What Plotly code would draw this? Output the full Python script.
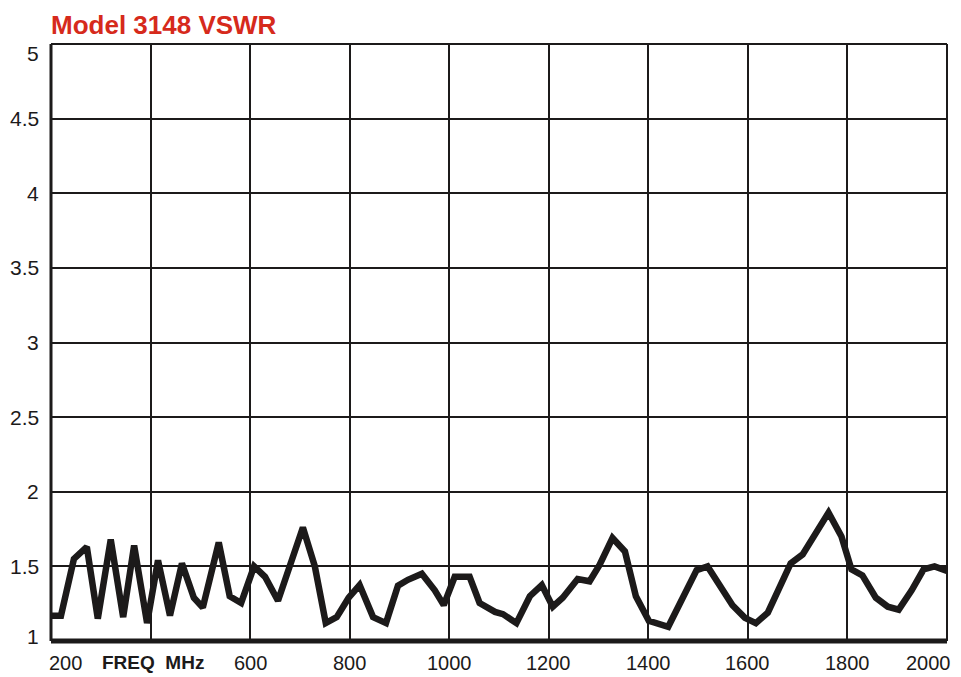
import plotly.graph_objects as go

# ---- data ----
freq_mhz = [200, 220, 246, 272, 294, 320, 345, 367, 393, 415, 439, 463, 487, 505,
            537, 559, 582, 608, 630, 656, 706, 730, 752, 774, 798, 820, 847, 873,
            897, 917, 945, 971, 989, 1011, 1041, 1061, 1092, 1108, 1135, 1162, 1186,
            1208, 1228, 1258, 1282, 1302, 1328, 1353, 1375, 1401, 1440, 1469, 1497,
            1519, 1543, 1569, 1594, 1616, 1640, 1664, 1686, 1710, 1730, 1762, 1788,
            1808, 1830, 1857, 1881, 1903, 1929, 1953, 1975, 2000]
vswr = [1.17, 1.17, 1.55, 1.63, 1.15, 1.68, 1.16, 1.64, 1.12, 1.54, 1.17, 1.52, 1.29, 1.225,
        1.66, 1.30, 1.255, 1.50, 1.43, 1.27, 1.76, 1.50, 1.12, 1.16, 1.29, 1.375, 1.16, 1.12,
        1.37, 1.41, 1.45, 1.34, 1.24, 1.43, 1.43, 1.255, 1.195, 1.18, 1.12, 1.30, 1.375,
        1.23, 1.29, 1.415, 1.40, 1.51, 1.69, 1.60, 1.30, 1.135, 1.095, 1.295, 1.475,
        1.50, 1.38, 1.24, 1.155, 1.12, 1.19, 1.355, 1.52, 1.58, 1.69, 1.86, 1.70,
        1.48, 1.44, 1.29, 1.23, 1.21, 1.34, 1.48, 1.50, 1.47]

x_tick_vals = [200, 400, 600, 800, 1000, 1200, 1400, 1600, 1800, 2000]
x_tick_text = ["200", "FREQ MHz", "600", "800", "1000", "1200", "1400", "1600", "1800", "2000"]
y_tick_vals = [1, 1.5, 2, 2.5, 3, 3.5, 4, 4.5, 5]
y_tick_text = ["1", "1.5", "2", "2.5", "3", "3.5", "4", "4.5", "5"]
title_text = "Model 3148 VSWR"

INK = "#1c1a1a"
RED = "#d62a1c"
FONT = "Liberation Sans, Arial, sans-serif"

fig = go.Figure()
fig.add_trace(go.Scatter(x=freq_mhz, y=vswr, mode="lines",
                         line=dict(color=INK, width=6.5),
                         hoverinfo="skip", showlegend=False))

annotations = []
for v, t in zip(x_tick_vals, x_tick_text):
    a = dict(x=v, xref="x", y=0, yref="paper", text=t, showarrow=False,
             yanchor="top", yshift=-9, font=dict(family=FONT, size=20, color=INK))
    if t == "FREQ MHz":
        a["text"] = "<b>FREQ  MHz</b>"
        a["font"] = dict(family=FONT, size=19, color=INK)
        a["x"] = 405
    elif v == x_tick_vals[0]:
        a["xanchor"] = "left"
        a["xshift"] = -4
    elif v == x_tick_vals[-1]:
        a["xanchor"] = "right"
        a["xshift"] = 6
    annotations.append(a)

for v, t in zip(y_tick_vals, y_tick_text):
    a = dict(x=0, xref="paper", y=v, yref="y", text=t, showarrow=False,
             xanchor="right", xshift=-10, yanchor="middle",
             font=dict(family=FONT, size=21, color=INK))
    if v == y_tick_vals[0]:
        a["yshift"] = 5
    elif v == y_tick_vals[-1]:
        a["yshift"] = -9
    annotations.append(a)

annotations.append(dict(x=0, xref="paper", y=1, yref="paper", text="<b>" + title_text + "</b>",
                        showarrow=False, xanchor="left", yanchor="bottom", xshift=-2, yshift=2,
                        font=dict(family=FONT, size=26, color=RED)))

shapes = [
    dict(type="line", xref="paper", yref="paper", x0=0, x1=1, y0=0, y1=0,
         line=dict(color=INK, width=5)),
    dict(type="line", xref="paper", yref="paper", x0=0, x1=0, y0=0, y1=1,
         line=dict(color=INK, width=3)),
    dict(type="line", xref="paper", yref="paper", x0=0, x1=1, y0=1, y1=1,
         line=dict(color=INK, width=2)),
    dict(type="line", xref="paper", yref="paper", x0=1, x1=1, y0=0, y1=1,
         line=dict(color=INK, width=2)),
]

# the page body adds an 8px offset, so the figure is sized to fit the window
fig.update_layout(
    width=953, height=669,
    margin=dict(l=43, r=14, t=36, b=36),
    paper_bgcolor="white", plot_bgcolor="white",
    xaxis=dict(range=[200, 2000], tickvals=x_tick_vals, showticklabels=False,
               showgrid=True, gridcolor=INK, gridwidth=2, zeroline=False,
               showline=False, ticks="", fixedrange=True),
    yaxis=dict(range=[1, 5], tickvals=y_tick_vals, showticklabels=False,
               showgrid=True, gridcolor=INK, gridwidth=2, zeroline=False,
               showline=False, ticks="", fixedrange=True),
    annotations=annotations,
    shapes=shapes,
)

fig.write_html("out.html")
